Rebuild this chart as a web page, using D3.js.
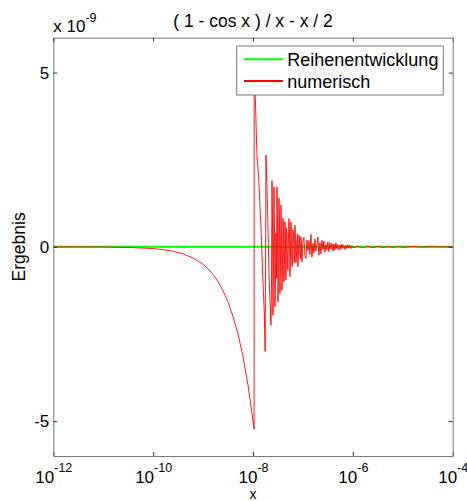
<!DOCTYPE html>
<html>
<head>
<meta charset="utf-8">
<script src="https://cdnjs.cloudflare.com/ajax/libs/d3/7.8.5/d3.min.js"></script>
<style>
body { margin: 0; background: #fff; }
text { font-family: "Liberation Sans", Arial, sans-serif; fill: #000; }
</style>
</head>
<body>
<div id="vis"></div>
<script>
var titleText = '( 1 - cos x ) / x - x / 2';
var seriesNames = ['Reihenentwicklung', 'numerisch'];
var xTicks = [1e-12, 1e-10, 1e-8, 1e-6, 1e-4];
var yTicks = [-5e-9, 0, 5e-9];

// points are [log10(x), Ergebnis in units of 1e-9]
var reihe = [[-12, 0], [-4, 0]];

var numLeft = [
    [-12, -0.0005], [-11.5, -0.0016], [-11, -0.005], [-10.5, -0.016], [-10, -0.05],
    [-9.8, -0.079], [-9.6, -0.126], [-9.4, -0.2], [-9.2, -0.32], [-9.0, -0.5],
    [-8.9, -0.63], [-8.8, -0.79], [-8.7, -1.0], [-8.6, -1.26], [-8.5, -1.58],
    [-8.4, -2.0], [-8.3, -2.5], [-8.2, -3.15], [-8.1, -3.97], [-8.05, -4.46],
    [-8.0, -5.0], [-7.978, -5.23]
];

var numSpike = [
    [-7.976, 5.25], [-7.946, 3.9], [-7.92, 2.6], [-7.886, 2.0], [-7.86, 1.15],
    [-7.84, 0.57], [-7.826, 0.0], [-7.806, -0.8], [-7.776, -1.8], [-7.756, -3.0]
];

var numNoise = [
    [-7.74, 2.63], [-7.72, 1.70], [-7.70, 0.55], [-7.68, -0.70], [-7.66, -1.55],
    [-7.64, -2.24], [-7.63, -1.2], [-7.62, 1.90], [-7.61, 0.9], [-7.60, -1.96],
    [-7.59, -0.8], [-7.58, 1.72], [-7.57, 0.6], [-7.56, -1.72], [-7.55, -1.1],
    [-7.54, 0.40], [-7.53, -0.9], [-7.52, 1.72], [-7.51, 0.8], [-7.50, -1.58],
    [-7.49, -0.7], [-7.48, 1.40], [-7.47, 0.9], [-7.46, -1.34], [-7.45, -0.6],
    [-7.44, 1.20], [-7.43, 0.5], [-7.42, -1.24], [-7.41, -0.8], [-7.40, 0.82],
    [-7.39, 0.6], [-7.38, -1.00], [-7.37, -0.5], [-7.36, 0.72], [-7.35, 0.3],
    [-7.34, -0.95], [-7.33, 0.55], [-7.32, 0.40], [-7.31, -0.45], [-7.30, -0.67],
    [-7.29, 0.2], [-7.28, 0.81], [-7.27, 0.5], [-7.26, -0.86], [-7.25, -0.4],
    [-7.24, 0.72], [-7.23, 0.35], [-7.22, -0.57], [-7.21, -0.5], [-7.20, 0.50],
    [-7.19, 0.4], [-7.18, -0.30], [-7.17, -0.45], [-7.16, 0.62], [-7.15, 0.25],
    [-7.14, -0.45], [-7.13, -0.3], [-7.12, 0.20], [-7.11, 0.38], [-7.10, -0.57],
    [-7.09, -0.25], [-7.08, 0.33], [-7.07, 0.25], [-7.06, -0.20], [-7.05, -0.35],
    [-7.04, 0.29], [-7.03, 0.1], [-7.02, -0.43], [-7.01, -0.2], [-7.00, 0.15],
    [-6.98, 0.27], [-6.96, -0.25],
    [-6.94, -0.33], [-6.92, 0.20], [-6.90, -0.10], [-6.88, 0.18], [-6.86, -0.22],
    [-6.84, 0.36], [-6.82, -0.29], [-6.80, 0.10], [-6.78, -0.18], [-6.76, 0.22],
    [-6.74, -0.12], [-6.72, 0.05], [-6.70, 0.28], [-6.68, -0.24], [-6.66, 0.12],
    [-6.64, -0.20], [-6.62, 0.19], [-6.60, -0.08], [-6.58, 0.17], [-6.56, -0.15],
    [-6.54, 0.06], [-6.52, -0.10], [-6.50, 0.14], [-6.48, -0.14], [-6.46, 0.12],
    [-6.44, -0.06], [-6.42, 0.10], [-6.40, -0.12], [-6.38, 0.08], [-6.36, -0.09],
    [-6.34, 0.11], [-6.32, -0.05], [-6.30, 0.07], [-6.28, -0.10], [-6.26, 0.06],
    [-6.24, -0.07], [-6.22, 0.08], [-6.20, -0.04], [-6.18, 0.05], [-6.16, -0.08],
    [-6.14, 0.04], [-6.12, -0.05], [-6.10, 0.06], [-6.08, -0.03], [-6.06, 0.04],
    [-6.04, -0.05], [-6.02, 0.03], [-6.00, -0.03]
];

var numTail = [
    [-5.9, 0.02], [-5.8, -0.03], [-5.7, 0.02], [-5.6, -0.02], [-5.5, 0.015],
    [-5.4, -0.02], [-5.3, 0.01], [-5.2, -0.015], [-5.1, 0.01], [-5.0, -0.01],
    [-4.8, 0.008], [-4.6, -0.006], [-4.4, 0.005], [-4.2, -0.004], [-4.0, 0.003]
];

var numerisch = numLeft.concat(numSpike, numNoise, numTail);

var margin = {
    left:   53.3,
    top:    37.7,
    right:  14.3,
    bottom: 45
};

var width = 467,
    height = 501,
    drawWidth = width - margin.left - margin.right,
    drawHeight = height - margin.top - margin.bottom;

var svg = d3.select('#vis')
            .append('svg')
            .attr('width', width)
            .attr('height', height);

var xScale = d3.scaleLog()
               .domain([1e-12, 1e-4])
               .range([0, drawWidth]);

var yScale = d3.scaleLinear()
               .domain([-6e-9, 6e-9])
               .range([drawHeight, 0]);

var g = svg.append('g')
           .attr('transform', `translate(${margin.left}, ${margin.top})`);

g.append('clipPath')
 .attr('id', 'clip')
 .append('rect')
 .attr('width', drawWidth)
 .attr('height', drawHeight);

var line = d3.line()
             .x((d) => xScale(Math.pow(10, d[0])))
             .y((d) => yScale(d[1] * 1e-9));

// green series first, red on top
g.append('path')
 .datum(reihe)
 .attr('d', line)
 .attr('fill', 'none')
 .attr('stroke', '#00ff00')
 .attr('stroke-width', 2);

g.append('path')
 .datum(numerisch)
 .attr('clip-path', 'url(#clip)')
 .attr('d', line)
 .attr('fill', 'none')
 .attr('stroke', '#ff0000')
 .attr('stroke-width', 0.9);

// axes
var xAxis = d3.axisBottom(xScale)
              .tickValues(xTicks)
              .tickSizeInner(-4)
              .tickSizeOuter(0)
              .tickPadding(14.5)
              .tickFormat(() => '');

var yAxis = d3.axisLeft(yScale)
              .tickValues(yTicks)
              .tickSizeInner(-4)
              .tickSizeOuter(0)
              .tickPadding(4)
              .tickFormat((d) => String(Math.round(d * 1e9)));

var xAxisTop = d3.axisTop(xScale).tickValues(xTicks).tickSizeInner(-4).tickSizeOuter(0).tickFormat(() => '');
var yAxisRight = d3.axisRight(yScale).tickValues(yTicks).tickSizeInner(-4).tickSizeOuter(0).tickFormat(() => '');

var xAxisG = g.append('g')
              .attr('transform', `translate(0, ${drawHeight})`)
              .call(xAxis);
var yAxisG = g.append('g').call(yAxis);
var topG = g.append('g').call(xAxisTop);
var rightG = g.append('g')
              .attr('transform', `translate(${drawWidth}, 0)`)
              .call(yAxisRight);

[xAxisG, yAxisG, topG, rightG].forEach((a) => {
    a.attr('font-family', null).attr('font-size', 17);
    a.select('.domain').attr('stroke', '#777');
    a.selectAll('.tick line').attr('stroke', '#333');
});

xAxisG.selectAll('.tick text').each(function(d) {
    var t = d3.select(this);
    t.text('10');
    t.append('tspan')
     .attr('dy', -11)
     .attr('font-size', 12.5)
     .text(String(Math.round(Math.log10(d))));
});

// title, exponent note, labels
svg.append('text')
   .attr('x', margin.left + drawWidth / 2)
   .attr('y', 26.7)
   .attr('text-anchor', 'middle')
   .attr('font-size', 17.5)
   .text(titleText);

var expo = svg.append('text')
              .attr('x', margin.left)
              .attr('y', 31.7)
              .attr('font-size', 17)
              .text('x 10');
expo.append('tspan').attr('dy', -10).attr('font-size', 12.5).text('-9');

svg.append('text')
   .attr('transform', `translate(25, ${margin.top + drawHeight / 2}) rotate(-90)`)
   .attr('text-anchor', 'middle')
   .attr('font-size', 17.5)
   .text('Ergebnis');

svg.append('text')
   .attr('x', margin.left + drawWidth / 2)
   .attr('y', 498.5)
   .attr('text-anchor', 'middle')
   .attr('font-size', 14)
   .text('x');

// legend
var legend = svg.append('g');
legend.append('rect')
      .attr('x', 236.7)
      .attr('y', 46)
      .attr('width', 206.6)
      .attr('height', 49)
      .attr('fill', '#fff')
      .attr('stroke', '#777');

var legendColors = ['#00ff00', '#ff0000'];
var legendY = [59.3, 81];
seriesNames.forEach((name, i) => {
    legend.append('line')
          .attr('x1', 244).attr('x2', 283)
          .attr('y1', legendY[i]).attr('y2', legendY[i])
          .attr('stroke', legendColors[i])
          .attr('stroke-width', 2);
    legend.append('text')
          .attr('x', 287.3)
          .attr('y', legendY[i] + 6.5)
          .attr('font-size', 18)
          .text(name);
});
</script>
</body>
</html>
